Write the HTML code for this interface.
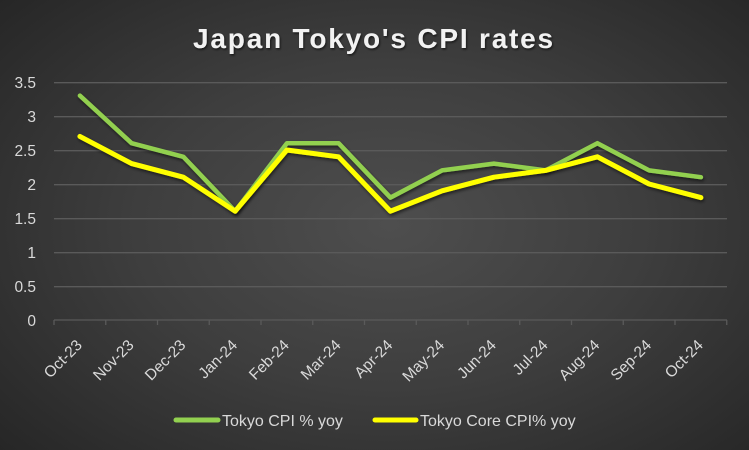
<!DOCTYPE html>
<html><head><meta charset="utf-8"><style>
html,body{margin:0;padding:0;}
body{width:749px;height:450px;overflow:hidden;background:radial-gradient(ellipse 75% 80% at 52% 50%,#4e4e4e 0%,#3e3e3e 45%,#232323 100%);}
svg{display:block;font-family:"Liberation Sans",sans-serif;}
</style></head><body>
<svg width="749" height="450" viewBox="0 0 749 450" xmlns="http://www.w3.org/2000/svg">
<defs>
<filter id="sh" x="-10%" y="-10%" width="120%" height="130%">
<feDropShadow dx="1" dy="2" stdDeviation="1.5" flood-color="#000" flood-opacity="0.55"/>
</filter>
<filter id="tsh" x="-5%" y="-20%" width="110%" height="150%">
<feDropShadow dx="1" dy="1.5" stdDeviation="1" flood-color="#000" flood-opacity="0.6"/>
</filter>
</defs>
<text x="374" y="48" text-anchor="middle" font-size="28" font-weight="bold" letter-spacing="1.8" fill="#f2f2f2" filter="url(#tsh)">Japan Tokyo's CPI rates</text>
<g stroke="#5a5a5a" stroke-width="1.3">
<line x1="54" y1="82.7" x2="727" y2="82.7"/>
<line x1="54" y1="116.7" x2="727" y2="116.7"/>
<line x1="54" y1="150.7" x2="727" y2="150.7"/>
<line x1="54" y1="184.7" x2="727" y2="184.7"/>
<line x1="54" y1="218.7" x2="727" y2="218.7"/>
<line x1="54" y1="252.7" x2="727" y2="252.7"/>
<line x1="54" y1="286.7" x2="727" y2="286.7"/>
<line x1="54" y1="320" x2="727" y2="320"/>
<line x1="54" y1="320" x2="54" y2="325"/>
<line x1="105.75" y1="320" x2="105.75" y2="325"/>
<line x1="157.5" y1="320" x2="157.5" y2="325"/>
<line x1="209.25" y1="320" x2="209.25" y2="325"/>
<line x1="261" y1="320" x2="261" y2="325"/>
<line x1="312.75" y1="320" x2="312.75" y2="325"/>
<line x1="364.5" y1="320" x2="364.5" y2="325"/>
<line x1="416.25" y1="320" x2="416.25" y2="325"/>
<line x1="468" y1="320" x2="468" y2="325"/>
<line x1="519.75" y1="320" x2="519.75" y2="325"/>
<line x1="571.5" y1="320" x2="571.5" y2="325"/>
<line x1="623.25" y1="320" x2="623.25" y2="325"/>
<line x1="675" y1="320" x2="675" y2="325"/>
<line x1="726.75" y1="320" x2="726.75" y2="325"/>
</g>
<g font-size="15.5" fill="#d9d9d9" text-anchor="end">
<text x="36" y="88">3.5</text>
<text x="36" y="122">3</text>
<text x="36" y="156">2.5</text>
<text x="36" y="190">2</text>
<text x="36" y="224">1.5</text>
<text x="36" y="258">1</text>
<text x="36" y="292">0.5</text>
<text x="36" y="326">0</text>
</g>
<g font-size="15.5" fill="#d9d9d9" text-anchor="end">
<text transform="translate(83,346) rotate(-45)">Oct-23</text>
<text transform="translate(134.7,346) rotate(-45)">Nov-23</text>
<text transform="translate(186.5,346) rotate(-45)">Dec-23</text>
<text transform="translate(238.2,346) rotate(-45)">Jan-24</text>
<text transform="translate(290,346) rotate(-45)">Feb-24</text>
<text transform="translate(341.7,346) rotate(-45)">Mar-24</text>
<text transform="translate(393.5,346) rotate(-45)">Apr-24</text>
<text transform="translate(445.2,346) rotate(-45)">May-24</text>
<text transform="translate(497,346) rotate(-45)">Jun-24</text>
<text transform="translate(548.7,346) rotate(-45)">Jul-24</text>
<text transform="translate(600.5,346) rotate(-45)">Aug-24</text>
<text transform="translate(652.2,346) rotate(-45)">Sep-24</text>
<text transform="translate(704,346) rotate(-45)">Oct-24</text>
</g>
<polyline filter="url(#sh)" fill="none" stroke="#92d050" stroke-width="4.5" stroke-linejoin="round" stroke-linecap="round"
points="79.9,95.6 131.6,143.2 183.4,156.8 235.1,211.2 286.9,143.2 338.6,143.2 390.4,197.6 442.1,170.4 493.9,163.6 545.6,170.4 597.4,143.2 649.1,170.4 700.9,177.2"/>
<polyline filter="url(#sh)" fill="none" stroke="#ffff00" stroke-width="5" stroke-linejoin="round" stroke-linecap="round"
points="79.9,136.4 131.6,163.6 183.4,177.2 235.1,211.2 286.9,150 338.6,156.8 390.4,211.2 442.1,190.8 493.9,177.2 545.6,170.4 597.4,156.8 649.1,184 700.9,197.6"/>
<line x1="176" y1="420" x2="218" y2="420" stroke="#92d050" stroke-width="5" stroke-linecap="round"/>
<text x="222" y="426" font-size="16" fill="#d9d9d9">Tokyo CPI % yoy</text>
<line x1="375" y1="420" x2="416" y2="420" stroke="#ffff00" stroke-width="5" stroke-linecap="round"/>
<text x="420" y="426" font-size="16" fill="#d9d9d9">Tokyo Core CPI% yoy</text>
</svg>
</body></html>
